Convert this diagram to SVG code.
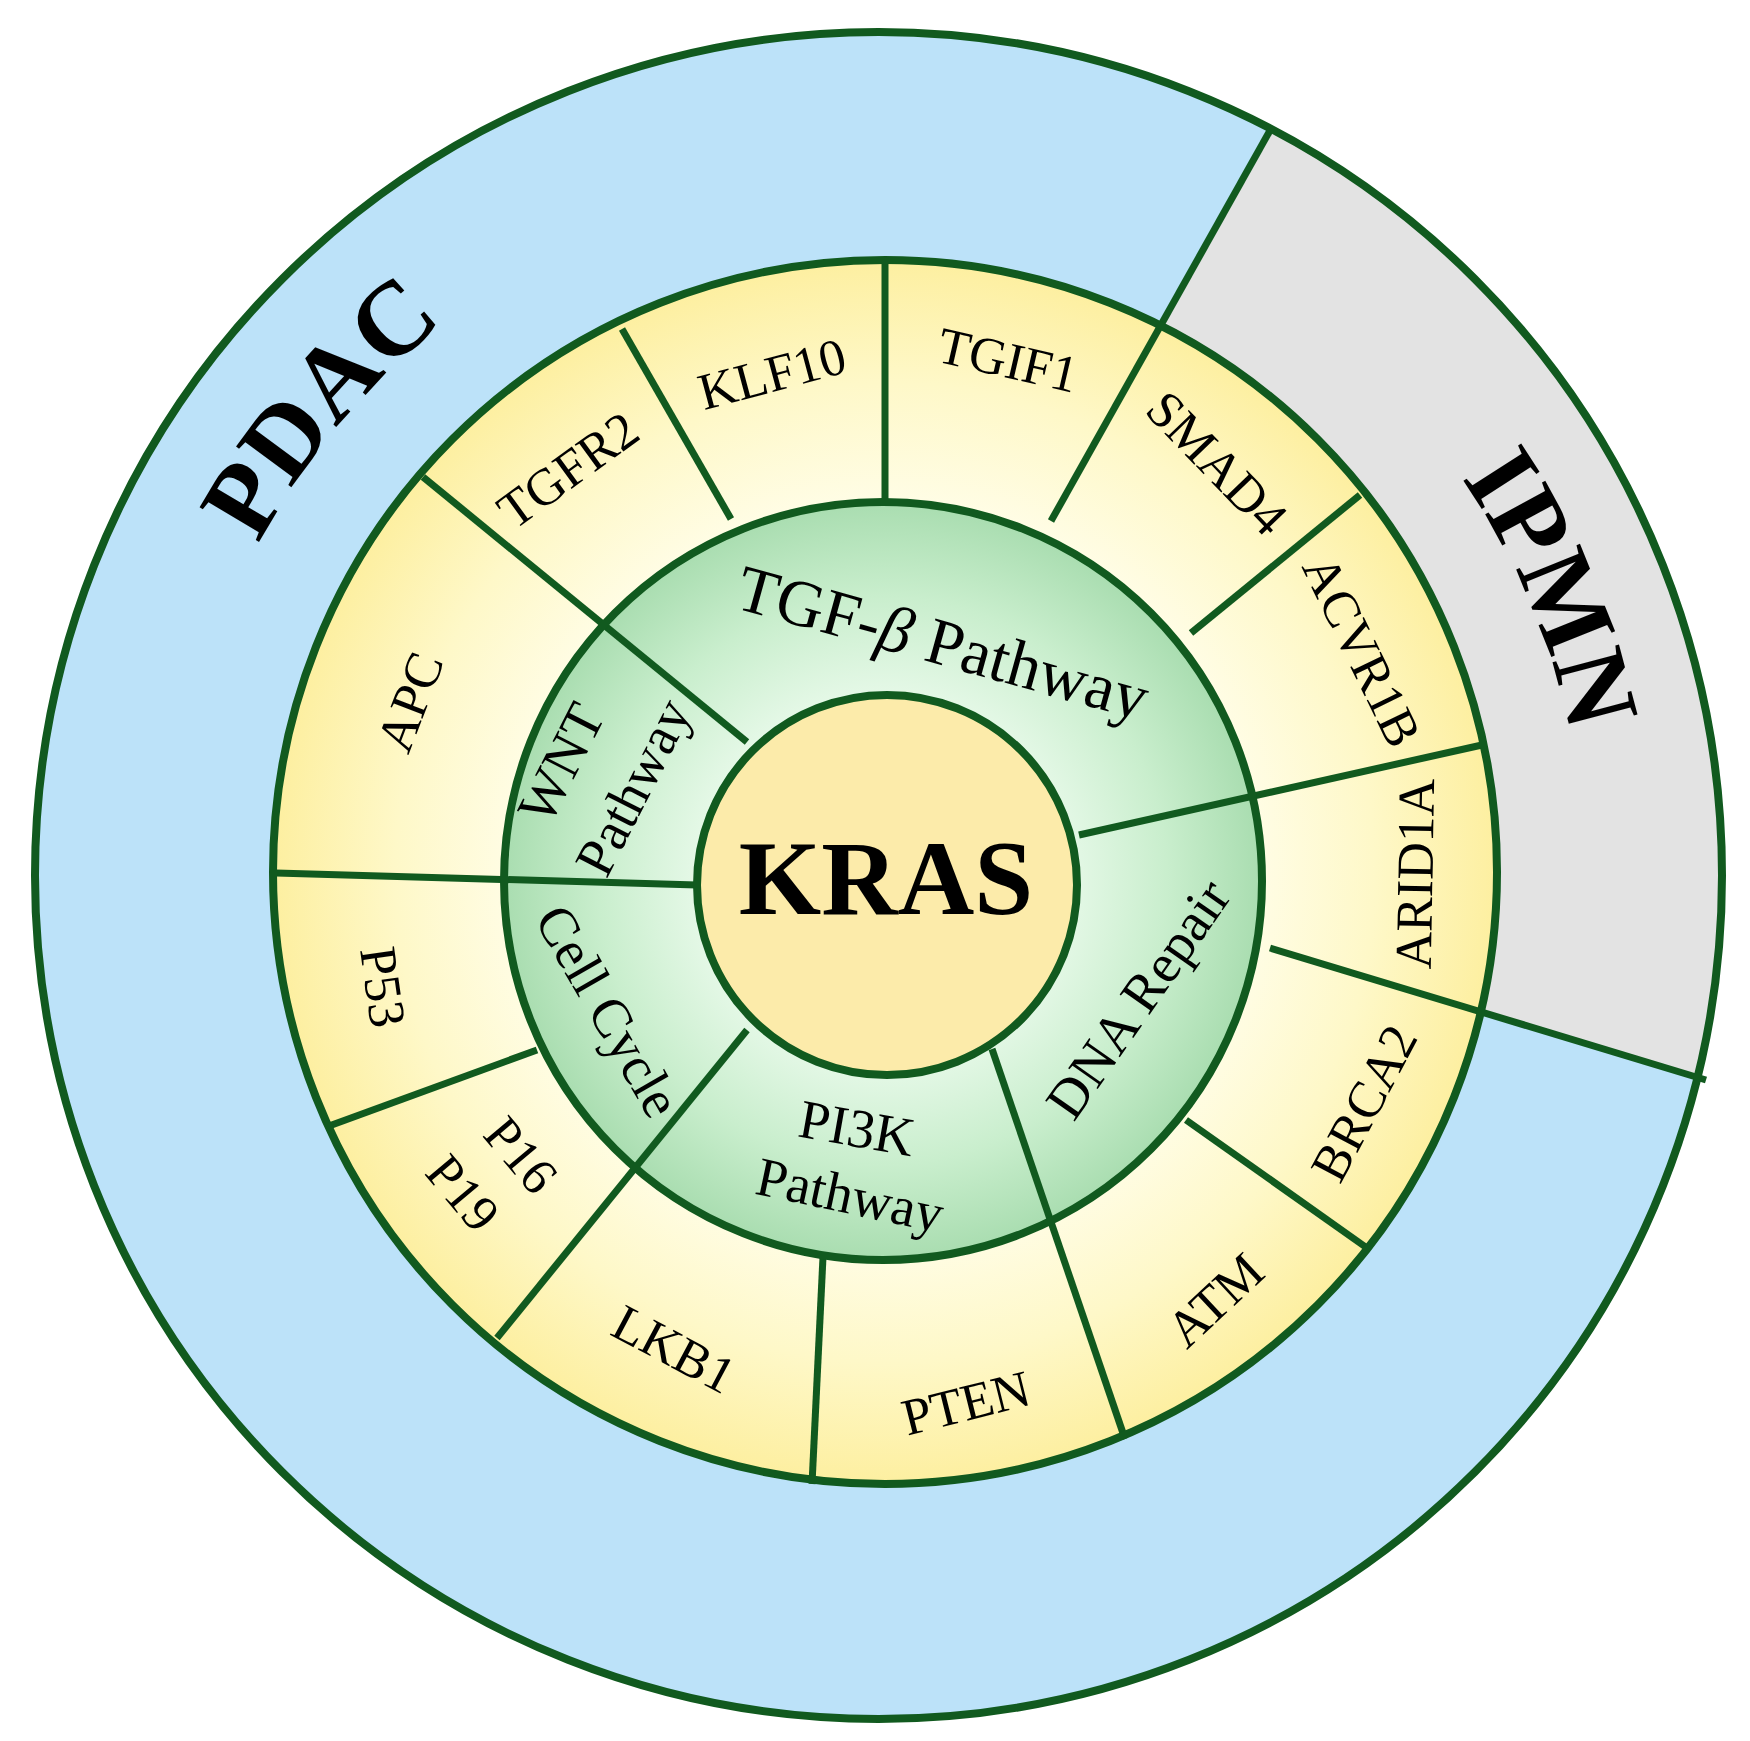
<svg xmlns="http://www.w3.org/2000/svg" width="1750" height="1741" viewBox="0 0 1750 1741">
  <defs>
    <radialGradient id="gYellow" gradientUnits="userSpaceOnUse" cx="885" cy="872" r="612">
      <stop offset="0.6" stop-color="#fffde6"/>
      <stop offset="0.8" stop-color="#fef8c8"/>
      <stop offset="1" stop-color="#fdefa0"/>
    </radialGradient>
    <radialGradient id="gGreen" gradientUnits="userSpaceOnUse" cx="883" cy="881" r="379">
      <stop offset="0.5" stop-color="#e4f8e6"/>
      <stop offset="0.75" stop-color="#c9eecd"/>
      <stop offset="1" stop-color="#a9ddb0"/>
    </radialGradient>
    <path id="pdacArc" d="M217.5,1118.1 A705,705 0 0 1 1002.4,182.7" fill="none"/>
    <path id="ipmnArc" d="M964.7,177.1 A705,705 0 0 1 1443.8,1300.3" fill="none"/>
  </defs>
  <style>
    .edge { stroke: #115a1f; fill: none; }
    .ring { stroke-width: 8; }
    .div { stroke-width: 7; stroke-linecap: butt; }
    .gene { font-family: "Liberation Serif", "Times New Roman", serif; font-size: 52px; fill: #000; text-anchor: middle; dominant-baseline: central; }
    .path { font-family: "Liberation Serif", "Times New Roman", serif; font-size: 55px; fill: #000; text-anchor: middle; dominant-baseline: central; }
    .big { font-family: "Liberation Serif", "Times New Roman", serif; font-weight: bold; font-size: 105px; fill: #000; }
  </style>

  <g id="outer-ring">
    <circle cx="878.5" cy="875.5" r="843.5" fill="#bce2f9"/>
  </g>
  <g id="ipmn-sector">
    <path d="M1271,128.7 A843.5,843.5 0 0 1 1697.5,1077.4 L1481,1012 A612,612 0 0 0 1160.5,325.5 Z" fill="#e3e3e3"/>
  </g>
  <g id="gene-ring">
    <circle cx="885" cy="872" r="612" fill="url(#gYellow)"/>
  </g>
  <g id="pathway-ring">
    <circle cx="883" cy="881" r="379" fill="url(#gGreen)"/>
  </g>
  <g id="kras-core">
    <circle cx="887" cy="885" r="190" fill="#fcebaa"/>
  </g>

  <g id="connectors" class="edge div">
    <line x1="423" y1="477" x2="747" y2="742"/>
    <line x1="622" y1="329" x2="731" y2="519"/>
    <line x1="885" y1="262" x2="885" y2="503"/>
    <line x1="1271" y1="128.7" x2="1051" y2="521"/>
    <line x1="1360" y1="495" x2="1191" y2="633"/>
    <line x1="1482" y1="745" x2="1079" y2="835"/>
    <line x1="1706" y1="1080" x2="1270" y2="948"/>
    <line x1="1367" y1="1248" x2="1186" y2="1120"/>
    <line x1="1125" y1="1439" x2="992" y2="1049"/>
    <line x1="823" y1="1257" x2="812" y2="1484"/>
    <line x1="497" y1="1338" x2="747" y2="1030"/>
    <line x1="329" y1="1126" x2="537" y2="1050"/>
    <line x1="276" y1="873" x2="697" y2="885"/>
  </g>

  <g id="outlines" class="edge ring">
    <circle cx="878.5" cy="875.5" r="843.5"/>
    <circle cx="885" cy="872" r="612"/>
    <circle cx="883" cy="881" r="379"/>
    <circle cx="887" cy="885" r="190"/>
  </g>

  <g id="label-pdac">
    <text class="big"><textPath href="#pdacArc" startOffset="50%" text-anchor="middle">PDAC</textPath></text>
  </g>
  <g id="label-ipmn">
    <text class="big"><textPath href="#ipmnArc" startOffset="50%" text-anchor="middle">IPMN</textPath></text>
  </g>

  <g id="genes">
    <text class="gene" transform="translate(568,470) rotate(-36)">TGFR2</text>
    <text class="gene" transform="translate(772,374) rotate(-15)">KLF10</text>
    <text class="gene" transform="translate(1008,360) rotate(13)">TGIF1</text>
    <text class="gene" transform="translate(1217,463) rotate(46)">SMAD4</text>
    <text class="gene" transform="translate(1362,651) rotate(64)">ACVR1B</text>
    <text class="gene" transform="translate(1415,874) rotate(-89)">ARID1A</text>
    <text class="gene" transform="translate(1364,1103) rotate(-62)">BRCA2</text>
    <text class="gene" transform="translate(1215,1300) rotate(-43)">ATM</text>
    <text class="gene" transform="translate(966,1403) rotate(-14)">PTEN</text>
    <text class="gene" transform="translate(674,1349) rotate(28)">LKB1</text>
    <text class="gene" transform="translate(521,1155) rotate(50)">P16</text>
    <text class="gene" transform="translate(463,1193) rotate(50)">P19</text>
    <text class="gene" transform="translate(383,987) rotate(82)">P53</text>
    <text class="gene" transform="translate(410,702) rotate(-69)">APC</text>
  </g>

  <g id="pathways">
    <text class="path" style="font-size:66px;dominant-baseline:auto" transform="translate(937,664) rotate(15.5)">TGF-<tspan font-style="italic">β</tspan> Pathway</text>
    <text class="path" transform="translate(561,763) rotate(-63)">WNT</text>
    <text class="path" transform="translate(633,787) rotate(-63)">Pathway</text>
    <text class="path" transform="translate(608,1011) rotate(60)">Cell Cycle</text>
    <text class="path" transform="translate(1138,999) rotate(-55)">DNA Repair</text>
    <text class="path" transform="translate(857,1128) rotate(10)">PI3K</text>
    <text class="path" transform="translate(850,1195) rotate(12)">Pathway</text>
  </g>

  <g id="kras-label">
    <text class="big" x="886" y="914" text-anchor="middle" style="font-size:106px">KRAS</text>
  </g>
</svg>
